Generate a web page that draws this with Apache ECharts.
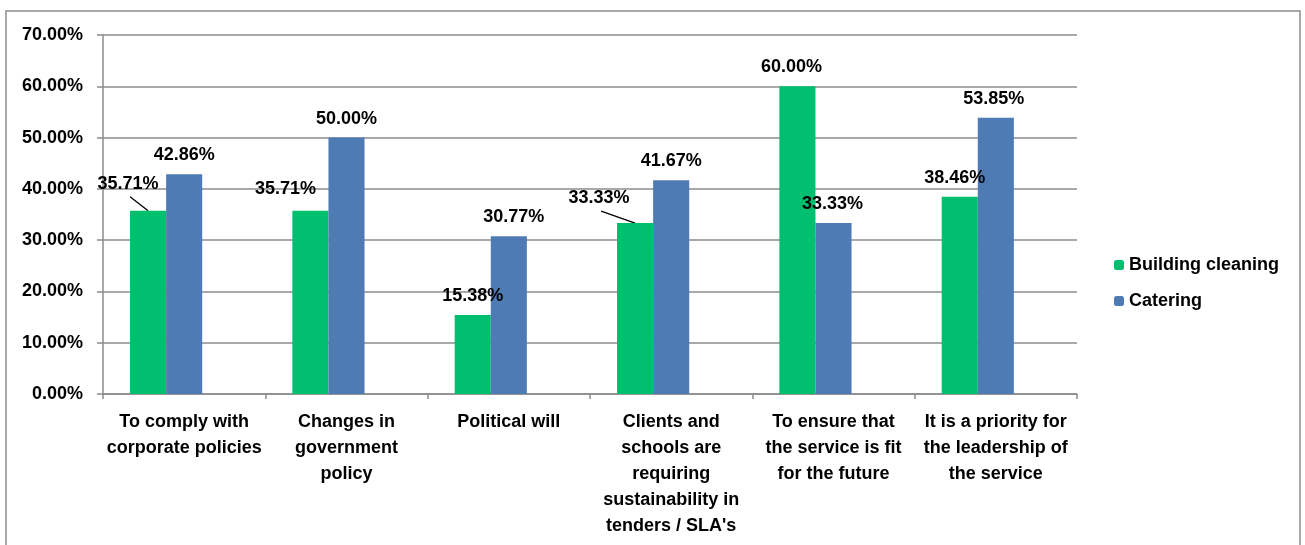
<!DOCTYPE html>
<html>
<head>
<meta charset="utf-8">
<title>Reasons for sustainability</title>
<script src="https://cdn.jsdelivr.net/npm/echarts@6/dist/echarts.min.js"></script>
<style>
  html, body { margin: 0; padding: 0; background: #fff; }
  #chart { width: 1305px; height: 545px; }
</style>
</head>
<body>
<div id="chart"></div>
<script>
const categories = [
  'To comply with\ncorporate policies',
  'Changes in\ngovernment\npolicy',
  'Political will',
  'Clients and\nschools are\nrequiring\nsustainability in\ntenders / SLA\'s',
  'To ensure that\nthe service is fit\nfor the future',
  'It is a priority for\nthe leadership of\nthe service'
];
const buildingCleaning = [35.71, 35.71, 15.38, 33.33, 60.00, 38.46];
const catering = [42.86, 50.00, 30.77, 41.67, 33.33, 53.85];

// label nudges (dx, dy) so the labels sit where the original had them
const greenShift = [[-20, -8], [-25, -3], [0, 0], [-36, -6], [-6, 0], [-5, 0]];
const blueShift = [[0, 0], [0, 0], [5, 0], [0, 0], [-1, 0], [-2, 0]];
const greenLeader = [true, false, false, true, false, false];

const FONT = '"Liberation Sans", Arial, sans-serif';
const GREEN = '#00BF6F';
const BLUE = '#4F7BB5';
const GRID = '#8c8c8c';
const LABEL_DIST = 10;

const chart = echarts.init(document.getElementById('chart'));

const labelStyle = {
  show: true,
  position: 'top',
  distance: LABEL_DIST,
  color: '#000',
  fontFamily: FONT,
  fontWeight: 'bold',
  fontSize: 18,
  formatter: p => p.value.toFixed(2) + '%'
};

const border = {
  id: 'border',
  type: 'rect',
  shape: { x: 6, y: 11, width: 1294, height: 560 },
  style: { fill: 'none', stroke: GRID, lineWidth: 1.5 },
  silent: true
};

chart.setOption({
  animation: false,
  textStyle: { fontFamily: FONT },
  graphic: [border],
  grid: { left: 103, right: 228, top: 35, bottom: 151 },
  legend: {
    orient: 'vertical',
    left: 1109,
    top: 251,
    itemWidth: 10,
    itemHeight: 10,
    itemGap: 18,
    data: ['Building cleaning', 'Catering'],
    textStyle: { color: '#000', fontFamily: FONT, fontWeight: 'bold', fontSize: 18 }
  },
  xAxis: {
    type: 'category',
    data: categories,
    axisLine: { lineStyle: { color: GRID, width: 1.5 } },
    axisTick: { show: true, length: 5, lineStyle: { color: GRID, width: 1.5 } },
    axisLabel: {
      interval: 0,
      margin: 15,
      color: '#000',
      fontFamily: FONT,
      fontWeight: 'bold',
      fontSize: 18,
      lineHeight: 26,
      align: 'center'
    }
  },
  yAxis: {
    type: 'value',
    min: 0,
    max: 70,
    interval: 10,
    axisLine: { show: true, lineStyle: { color: GRID, width: 1.5 } },
    axisTick: { show: true, length: 6, lineStyle: { color: GRID, width: 1.5 } },
    splitLine: { lineStyle: { color: GRID, width: 1.5 } },
    axisLabel: {
      margin: 20,
      color: '#000',
      fontFamily: FONT,
      fontWeight: 'bold',
      fontSize: 18,
      formatter: v => v.toFixed(2) + '%'
    }
  },
  series: [
    {
      name: 'Building cleaning',
      type: 'bar',
      barGap: '0%',
      barCategoryGap: '33.3%',
      itemStyle: { color: GREEN },
      data: buildingCleaning,
      label: labelStyle,
      labelLayout: p => ({ dx: greenShift[p.dataIndex][0], dy: greenShift[p.dataIndex][1] })
    },
    {
      name: 'Catering',
      type: 'bar',
      barGap: '0%',
      barCategoryGap: '33.3%',
      itemStyle: { color: BLUE },
      data: catering,
      label: labelStyle,
      labelLayout: p => ({ dx: blueShift[p.dataIndex][0], dy: blueShift[p.dataIndex][1] })
    },
    {
      // empty third slot, keeps the bar pair left of centre like the original
      name: 'spacer',
      type: 'bar',
      barGap: '0%',
      barCategoryGap: '33.3%',
      data: categories.map(() => '-')
    }
  ]
});

// leader lines from moved labels down to the top of their bars
const greenData = chart.getModel().getSeriesByIndex(0).getData();
const leaders = [];
greenLeader.forEach((on, i) => {
  if (!on) return;
  const lay = greenData.getItemLayout(i);
  const cx = lay.x + lay.width / 2;
  const top = Math.min(lay.y, lay.y + lay.height);
  const labelCx = cx + greenShift[i][0];
  const labelCy = top - LABEL_DIST - 10 + greenShift[i][1];
  leaders.push({
    id: 'lead' + i,
    type: 'line',
    shape: { x1: labelCx + 2, y1: labelCy + 14, x2: cx, y2: top },
    style: { stroke: '#000', lineWidth: 1.3 },
    silent: true
  });
});
chart.setOption({ graphic: [border].concat(leaders) });
</script>
</body>
</html>
